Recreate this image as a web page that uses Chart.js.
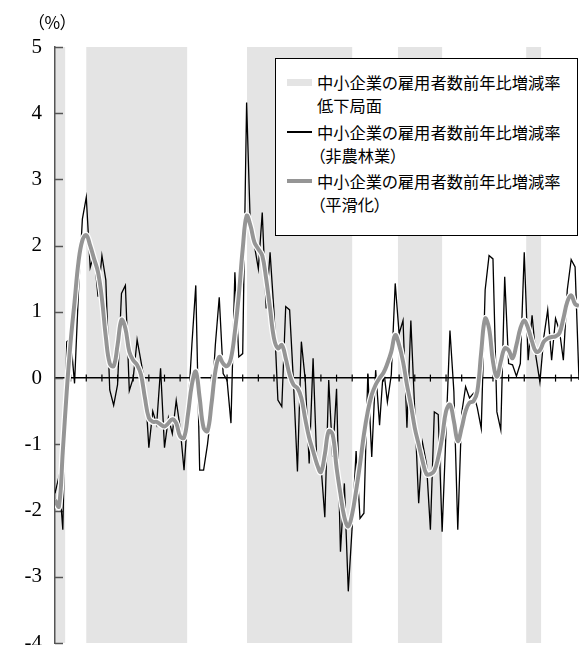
<!DOCTYPE html>
<html lang="ja">
<head>
<meta charset="utf-8">
<script src="https://cdn.jsdelivr.net/npm/chart.js@4.4.1/dist/chart.umd.min.js"></script>
<style>
  html, body { margin: 0; padding: 0; background: #fff; }
  #wrap { position: relative; width: 579px; height: 645px; }
  #unit { position: absolute; left: 36px; top: 13px; font-family: "Noto Sans CJK JP"; font-size: 17px; line-height: 18px; font-feature-settings: "palt"; }
  #legend { position: absolute; left: 275px; top: 58px; width: 303px; height: 178px; box-sizing: border-box; border: 1px solid #000; background: #fff;
            font-family: "Noto Sans CJK JP"; font-size: 16.3px; line-height: 22.5px; font-feature-settings: "palt"; color: #000; }
  .item { position: absolute; left: 41px; white-space: nowrap; }
  .sw { position: absolute; left: 11px; width: 25px; }
</style>
</head>
<body>
<div id="wrap">
  <canvas id="grafico" width="579" height="645"></canvas>
  <div id="unit">（%）</div>
  <div id="legend">
    <div class="sw" style="top:20px;height:7px;background:#e4e4e4"></div>
    <div class="item" style="top:12px">中小企業の雇用者数前年比増減率<br>低下局面</div>
    <div class="sw" style="top:72px;height:1.5px;background:#000"></div>
    <div class="item" style="top:62px">中小企業の雇用者数前年比増減率<br>（非農林業）</div>
    <div class="sw" style="top:120px;height:4px;background:#959595"></div>
    <div class="item" style="top:111px">中小企業の雇用者数前年比増減率<br>（平滑化）</div>
  </div>
</div>
<script>
// --- Datos (trimestral, índice 0..134) ---
const empleo = [
  -1.74, -1.49, -2.29, 0.55, 0.6, -0.08, 1.3, 2.4, 2.73, 1.67,
  1.88, 1.23, 1.85, 1.48, -0.18, -0.41, -0.1, 1.28, 1.4, -0.19,
  0.0, 0.58, 0.25, -0.1, -1.05, -0.5, -0.7, 0.15, -1.05, -0.6,
  -0.84, -0.34, -0.75, -1.39, -0.5, 0.5, 1.4, -1.39, -1.39, -1.0,
  -0.48, 0.5, 1.22, 0.07, -0.03, -0.68, 1.6, 0.32, 0.37, 4.16,
  2.2, 2.0, 1.65, 2.5, 1.05, 1.9, 1.0, -0.33, -0.43, 1.08,
  1.03, -0.08, -1.41, 0.55, -0.03, -1.29, 0.3, -1.36, -1.3, -2.1,
  -0.03, -1.19, -0.16, -2.62, -1.59, -3.22, -2.24, -1.1, -2.12, -2.04,
  0.07, -1.19, 0.12, -0.71, 0.16, -0.36, 0.05, 1.43, 0.67, 0.87,
  -0.75, 0.87, -0.5, -1.89, -0.98, -1.3, -2.29, -0.51, -0.55, -2.32,
  -0.8, 0.72, -0.2, -2.29, -0.53, -0.13, -0.3, -0.23, -0.45, -0.76,
  1.33, 1.85, 1.8, -0.51, -0.78, 1.53, 0.22, 0.2, 0.03, 0.22,
  1.9, 0.27, 0.95, 0.32, -0.06, 0.62, 1.03, 0.27, 0.9, 0.72,
  0.27, 1.33, 1.79, 1.68, -0.03
];

const suavizado = [
  -1.84, -1.94, -1.1, -0.2, 0.55, 1.15, 1.75, 2.08, 2.16, 2.0,
  1.8, 1.6, 1.2, 0.62, 0.22, 0.18, 0.5, 0.88, 0.75, 0.4,
  0.27, 0.2, 0.05, -0.3, -0.6, -0.66, -0.66, -0.7, -0.73, -0.68,
  -0.62, -0.68, -0.88, -0.9, -0.55, -0.1, 0.1, -0.3, -0.75, -0.8,
  -0.4, 0.1, 0.32, 0.22, 0.18, 0.3, 0.7, 1.25, 1.95, 2.45,
  2.3, 2.05, 1.95, 1.85, 1.5, 1.05, 0.6, 0.45, 0.5, 0.3,
  0.05, -0.1, -0.15, -0.3, -0.62, -0.9, -1.1, -1.3, -1.42, -1.15,
  -0.8, -0.85, -1.35, -1.75, -2.1, -2.24, -2.05, -1.7, -1.3, -0.85,
  -0.5, -0.25, -0.1, 0.0, 0.08, 0.22, 0.4, 0.65, 0.5, 0.25,
  -0.1, -0.4, -0.75, -1.0, -1.25, -1.45, -1.45, -1.4, -1.2, -0.9,
  -0.5, -0.4, -0.65, -0.95, -0.75, -0.5, -0.37, -0.35, -0.2, 0.4,
  0.9, 0.75, 0.25, 0.02, 0.25, 0.45, 0.42, 0.3, 0.5, 0.75,
  0.87, 0.75, 0.55, 0.4, 0.42, 0.55, 0.6, 0.62, 0.63, 0.68,
  0.9, 1.15, 1.25, 1.12, 1.09
];

// periodos de descenso (inicio, fin) en trimestres
const bandaInicio = [0, 8, 49.1, 87.7, 120.5];
const bandaFin    = [2.6, 33.8, 76, 99, 124.3];

// marcas anuales en el eje x (cada 4 trimestres)
const marcasAnio = [];
for (let q = 4; q <= 132; q += 4) marcasAnio.push(q);

const yTicks = [-4, -3, -2, -1, 0, 1, 2, 3, 4, 5];

const trimestres = empleo.map((_, i) => i);
const puntos = arr => arr.map((v, i) => ({ x: trimestres[i], y: v }));

// --- Plugins ---
const bandas = {
  id: 'bandas',
  beforeDraw(chart) {
    const { ctx, chartArea: a, scales: { x } } = chart;
    ctx.save();
    ctx.fillStyle = '#e4e4e4';
    bandaInicio.forEach((b, i) => {
      const x0 = x.getPixelForValue(b), x1 = x.getPixelForValue(bandaFin[i]);
      ctx.fillRect(x0, a.top, x1 - x0, a.bottom - a.top);
    });
    ctx.restore();
  }
};

const marcas = {
  id: 'marcas',
  beforeDatasetsDraw(chart) {
    const { ctx, chartArea: a, scales: { x, y } } = chart;
    ctx.save();
    // eje y: marcas hacia dentro
    ctx.strokeStyle = '#555';
    ctx.lineWidth = 1.5;
    yTicks.forEach(t => {
      const py = Math.round(y.getPixelForValue(t)) + 0.5;
      ctx.beginPath(); ctx.moveTo(a.left, py); ctx.lineTo(a.left + 8, py); ctx.stroke();
    });
    // eje x: marcas cruzando la linea cero
    ctx.strokeStyle = '#000';
    ctx.lineWidth = 1.2;
    const y0 = y.getPixelForValue(0);
    marcasAnio.forEach(q => {
      const px = x.getPixelForValue(q);
      ctx.beginPath(); ctx.moveTo(px, y0 - 3.5); ctx.lineTo(px, y0 + 3.5); ctx.stroke();
    });
    ctx.restore();
  }
};

new Chart(document.getElementById('grafico'), {
  type: 'line',
  data: {
    datasets: [
      { label: '中小企業の雇用者数前年比増減率（平滑化）', data: puntos(suavizado), borderColor: '#959595', borderWidth: 4, tension: 0.4, pointRadius: 0, order: 0 },
      { label: 'halo', data: puntos(suavizado), borderColor: '#ffffff', borderWidth: 6.5, tension: 0.4, pointRadius: 0, order: 1 },
      { label: '中小企業の雇用者数前年比増減率（非農林業）', data: puntos(empleo), borderColor: '#000', borderWidth: 1.3, tension: 0, pointRadius: 0, order: 2 }
    ]
  },
  options: {
    responsive: false,
    animation: false,
    layout: { padding: { top: 47, bottom: 2, left: 0, right: 0 } },
    plugins: { legend: { display: false }, tooltip: { enabled: false } },
    scales: {
      x: {
        type: 'linear', min: 0, max: 134,
        position: { y: 0 },
        ticks: { display: false },
        grid: { display: false },
        border: { display: true, color: '#000', width: 1.5 }
      },
      y: {
        min: -4, max: 5,
        ticks: { stepSize: 1, color: '#000', padding: 13, font: { family: 'Liberation Serif', size: 21 } },
        grid: { drawOnChartArea: false, drawTicks: false },
        border: { color: '#555', width: 1.5 },
        afterFit(s) { s.width = 55; s.paddingTop = 0; s.paddingBottom = 0; }
      }
    }
  },
  plugins: [bandas, marcas]
});
</script>
</body>
</html>
